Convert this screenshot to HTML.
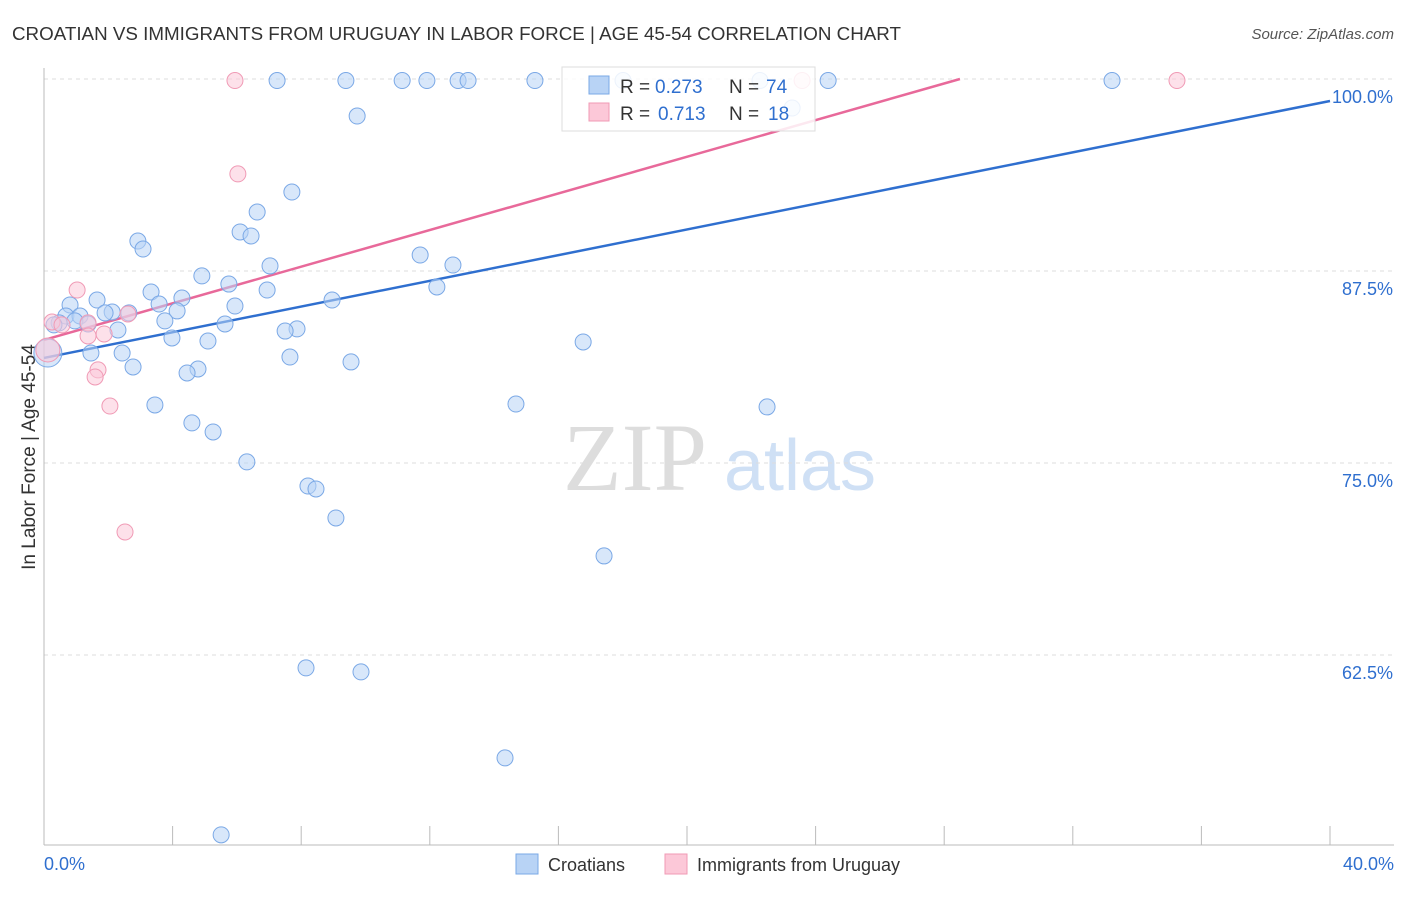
<!DOCTYPE html>
<html><head><meta charset="utf-8"><style>
body{margin:0;background:#fff;font-family:"Liberation Sans",sans-serif;}
svg text{font-family:"Liberation Sans",sans-serif;}
</style></head><body>
<svg id="chart" width="1406" height="892">
<text x="12" y="40" font-size="18" fill="#333" textLength="889" lengthAdjust="spacingAndGlyphs">CROATIAN VS IMMIGRANTS FROM URUGUAY IN LABOR FORCE | AGE 45-54 CORRELATION CHART</text>
<text x="1394" y="39" font-size="15" fill="#555" font-style="italic" text-anchor="end">Source: ZipAtlas.com</text>
<text x="35" y="457" font-size="19" fill="#333" text-anchor="middle" transform="rotate(-90 35 457)">In Labor Force | Age 45-54</text>
<g><text x="635" y="490" font-size="96" fill="#ddd" font-family="Liberation Serif" text-anchor="middle" style="font-family:'Liberation Serif',serif">ZIP</text><text x="800" y="490" font-size="72" fill="#cfe0f5" text-anchor="middle">atlas</text></g>
<g id="grid"></g><g id="axes"></g><g id="lines"></g><g id="pts"></g>
<g>
<rect x="562" y="67" width="253" height="64" fill="#fff" fill-opacity="0.85" stroke="#ddd"/>
<rect x="589" y="76" width="20" height="18" fill="#b8d3f5" stroke="#7aa8e6"/>
<rect x="589" y="103" width="20" height="18" fill="#fcc8d8" stroke="#f09ab5"/>
<text x="620" y="93" font-size="19" fill="#333">R =</text>
<text x="655" y="93" font-size="19" fill="#2f6fcf">0.273</text>
<text x="729" y="93" font-size="19" fill="#333">N =</text>
<text x="766" y="93" font-size="19" fill="#2f6fcf">74</text>
<text x="620" y="120" font-size="19" fill="#333">R =</text>
<text x="658" y="120" font-size="19" fill="#2f6fcf">0.713</text>
<text x="729" y="120" font-size="19" fill="#333">N =</text>
<text x="768" y="120" font-size="19" fill="#2f6fcf">18</text>
</g>
<g>
<rect x="516" y="854" width="22" height="20" fill="#b8d3f5" stroke="#7aa8e6"/>
<text x="548" y="871" font-size="18" fill="#333">Croatians</text>
<rect x="665" y="854" width="22" height="20" fill="#fcc8d8" stroke="#f09ab5"/>
<text x="697" y="871" font-size="18" fill="#333">Immigrants from Uruguay</text>
</g>
</svg>
<script>
const yTicks=[100,87.5,75,62.5];
const yTickLabels=["100.0%","87.5%","75.0%","62.5%"];
const xLabels=["0.0%","40.0%"];
const blueX=[7.25,9.39,11.14,11.91,12.88,13.19,15.27,18.01,22.27,24.39,33.22,9.74,23.27,7.71,6.63,6.10,6.44,2.92,3.08,11.70,12.72,7.03,4.91,5.75,6.94,12.22,3.33,4.29,1.65,0.81,3.58,5.94,8.96,4.14,2.12,1.90,2.64,0.68,1.12,3.76,0.96,5.63,0.47,0.31,1.37,2.30,7.87,7.50,3.98,5.10,16.77,0.12,1.46,2.43,7.65,9.55,2.77,4.79,4.45,3.45,14.68,22.49,4.60,5.26,6.31,8.21,8.46,9.08,17.42,8.15,9.86,14.34,5.51];
const blueY=[99.9,99.9,99.9,99.9,99.9,99.9,99.9,99.9,99.9,99.9,99.9,97.59,98.11,92.64,91.34,90.04,89.78,89.45,88.93,88.54,87.89,87.83,87.18,86.65,86.26,86.46,86.13,85.74,85.61,85.29,85.35,85.22,85.61,84.90,84.83,84.77,84.77,84.57,84.57,84.25,84.25,84.05,84.12,83.99,84.05,83.66,83.73,83.59,83.14,82.94,82.88,82.16,82.16,82.16,81.90,81.58,81.25,81.12,80.86,78.78,78.84,78.65,77.61,77.02,75.07,73.50,73.31,71.42,68.95,61.66,61.40,55.80,50.79];
const pinkX=[5.94,35.24,23.58,6.03,1.03,0.25,0.56,2.61,1.37,1.37,1.87,1.68,1.59,2.05,2.52,0.12];
const pinkY=[99.9,99.9,99.9,93.82,86.26,84.18,83.99,84.70,84.12,83.27,83.40,81.06,80.60,78.71,70.51,82.36];
const blueTrend=[81.84,98.57];
const pinkTrend=[83.01,100];
const pinkTrendEndX=28.49;
const X=v=>44+v/40*1286, Y=v=>79+(100-v)*15.36;
const NS="http://www.w3.org/2000/svg";
function mk(t,a,p){const e=document.createElementNS(NS,t);for(const k in a)e.setAttribute(k,a[k]);document.getElementById(p).appendChild(e);return e;}
yTicks.forEach((t,i)=>{
 const l=mk('line',{x1:44,x2:1394,y1:Y(t),y2:Y(t),stroke:'#ddd','stroke-dasharray':'4,4'},'grid');
 
 
 const tx=mk('text',{x:1393,y:Y(t)+24,'font-size':18,fill:'#2f6fcf','text-anchor':'end'},'grid');tx.textContent=yTickLabels[i];
 
 
});
mk('line',{x1:44,x2:44,y1:68,y2:845,stroke:'#bbb'},'axes');
mk('line',{x1:44,x2:1394,y1:845,y2:845,stroke:'#bbb'},'axes');
for(let i=1;i<=10;i++){const x=44+i*128.6;mk('line',{x1:x,x2:x,y1:826,y2:845,stroke:'#bbb'},'axes');}
[[0,'start',44],[40,'end',1394]].forEach((d,i)=>{const t=mk('text',{x:d[2],y:870,'font-size':18,fill:'#2f6fcf','text-anchor':d[1]},'axes');t.textContent=xLabels[i];
 
 });
const bl=mk('line',{x1:X(0),y1:Y(blueTrend[0]),x2:X(40),y2:Y(blueTrend[1]),stroke:'#2f6fcf','stroke-width':2.5},'lines');


const pl=mk('line',{x1:X(0),y1:Y(pinkTrend[0]),x2:X(pinkTrendEndX),y2:Y(pinkTrend[1]),stroke:'#e8699a','stroke-width':2.5},'lines');


blueX.forEach((x,i)=>{const c=mk('circle',{cx:X(x),cy:Y(blueY[i]),r:i==51?14:8,fill:'#b8d3f5','fill-opacity':0.55,stroke:'#7aa8e6','stroke-width':1},'pts');
 
 });
pinkX.forEach((x,i)=>{const c=mk('circle',{cx:X(x),cy:Y(pinkY[i]),r:i==15?12:8,fill:'#fcc8d8','fill-opacity':0.55,stroke:'#f09ab5','stroke-width':1},'pts');
 
 });
</script>
</body></html>
